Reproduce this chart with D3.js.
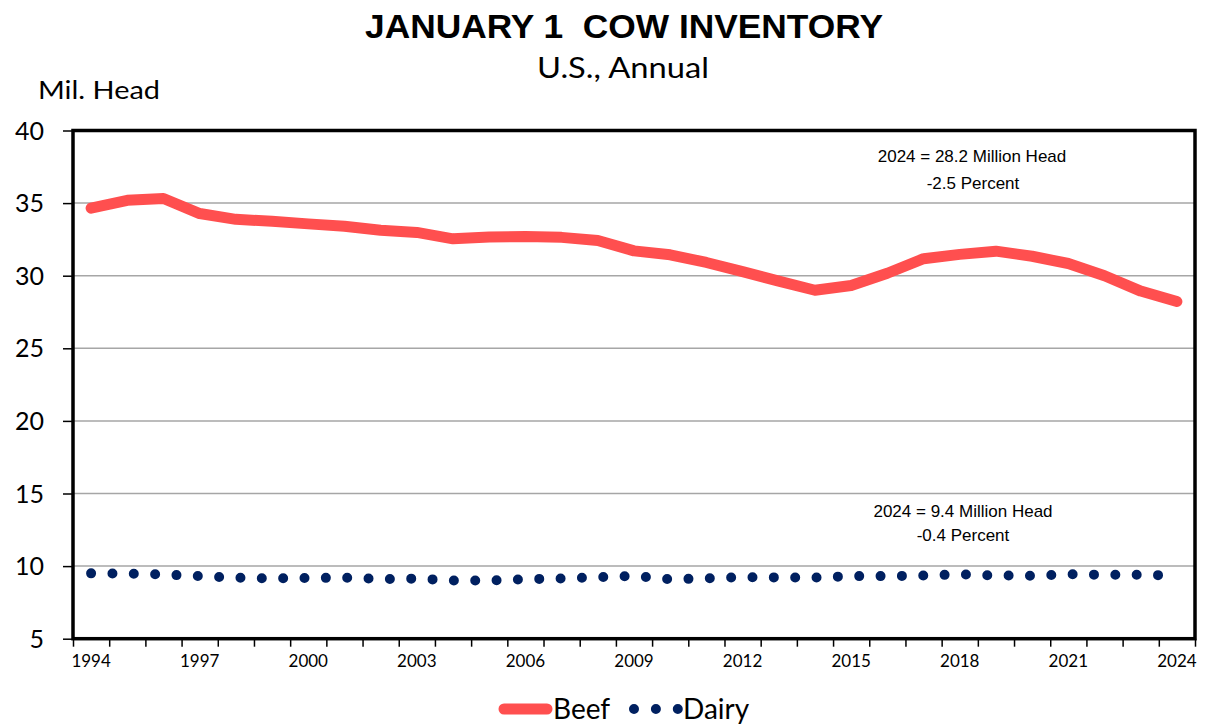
<!DOCTYPE html>
<html>
<head>
<meta charset="utf-8">
<script src="https://cdn.jsdelivr.net/npm/d3@7"></script>
<style>
  html, body { margin: 0; padding: 0; background: #fff; }
  svg { display: block; }
  text { white-space: pre; }
</style>
</head>
<body>
<svg id="chart" width="1206" height="726"></svg>
<script>
// January 1 cow inventory, U.S., million head
const years = d3.range(1994, 2025);
const beef = [34.65, 35.19, 35.32, 34.28, 33.88, 33.75, 33.57, 33.40, 33.13, 32.98,
              32.54, 32.67, 32.70, 32.64, 32.43, 31.71, 31.44, 30.91, 30.28, 29.63,
              29.00, 29.33, 30.17, 31.17, 31.47, 31.69, 31.34, 30.84, 30.00, 28.94, 28.22];
const dairy = [9.50, 9.49, 9.42, 9.31, 9.20, 9.15, 9.18, 9.20, 9.11, 9.14,
               9.01, 9.00, 9.10, 9.15, 9.23, 9.33, 9.09, 9.15, 9.24, 9.22,
               9.21, 9.31, 9.31, 9.35, 9.43, 9.35, 9.34, 9.44, 9.40, 9.40, 9.35];
const yTicks = [5, 10, 15, 20, 25, 30, 35, 40];
const xLabelYears = [1994, 1997, 2000, 2003, 2006, 2009, 2012, 2015, 2018, 2021, 2024];

const beefColor = "#FF4F4F";
const dairyColor = "#002060";
const calibri = "Lato, 'Open Sans', sans-serif";
const arial = "'Liberation Sans', Arial, sans-serif";

const svg = d3.select("#chart");
const plot = { left: 73, right: 1195, top: 130.5, bottom: 638.7 };

const x = d3.scaleBand().domain(years).range([plot.left, plot.right]).padding(0);
const xc = d => x(d) + x.bandwidth() / 2;
const xEdge = d3.scaleLinear().domain([0, years.length]).range([plot.left, plot.right]);
const y = d3.scaleLinear().domain([5, 40]).range([plot.bottom, plot.top]);

// Titles
svg.append("text").attr("x", 365).attr("y", 37.5)
  .attr("font-family", arial).attr("font-weight", "bold").attr("font-size", 32.5)
  .attr("textLength", 518).attr("lengthAdjust", "spacingAndGlyphs")
  .text("JANUARY 1  COW INVENTORY");
svg.append("text").attr("x", 537).attr("y", 78)
  .attr("font-family", calibri).attr("font-size", 29)
  .attr("textLength", 172).attr("lengthAdjust", "spacingAndGlyphs")
  .text("U.S., Annual");
svg.append("text").attr("x", 38).attr("y", 99).attr("font-family", calibri)
  .attr("font-size", 25).attr("textLength", 122).attr("lengthAdjust", "spacingAndGlyphs")
  .text("Mil. Head");

// Gridlines
svg.append("g").selectAll("line").data(yTicks.filter(t => t > 5 && t < 40)).join("line")
  .attr("x1", plot.left).attr("x2", plot.right)
  .attr("y1", d => y(d)).attr("y2", d => y(d))
  .attr("stroke", "#A6A6A6").attr("stroke-width", 1.5);

// Y axis
const yAxis = svg.append("g").attr("transform", `translate(${plot.left},0)`)
  .call(d3.axisLeft(y).tickValues(yTicks).tickSize(10).tickPadding(19).tickFormat(d3.format("d")));
yAxis.select(".domain").remove();
yAxis.selectAll(".tick line").attr("stroke", "#000").attr("stroke-width", 1.5);
yAxis.selectAll(".tick text").attr("font-family", calibri).attr("font-size", 25).attr("fill", "#000")
  .attr("dy", "0.34em");

// X axis: tick marks on category boundaries, labels on centres
const xTicks = svg.append("g").attr("transform", `translate(0,${plot.bottom})`)
  .call(d3.axisBottom(xEdge).tickValues(d3.range(0, years.length + 1)).tickSize(8).tickFormat(""));
xTicks.select(".domain").remove();
xTicks.selectAll(".tick line").attr("stroke", "#000").attr("stroke-width", 1.5);

const xLabels = svg.append("g").attr("transform", `translate(0,${plot.bottom})`)
  .call(d3.axisBottom(x).tickValues(xLabelYears).tickSize(0).tickPadding(16));
xLabels.select(".domain").remove();
xLabels.selectAll(".tick text").attr("font-family", calibri).attr("font-size", 17).attr("fill", "#000");

// Series lines
const line = d3.line().x((d, i) => xc(years[i])).y(d => y(d));

svg.append("path").datum(beef).attr("d", line)
  .attr("fill", "none").attr("stroke", beefColor).attr("stroke-width", 11)
  .attr("stroke-linejoin", "round").attr("stroke-linecap", "round");

svg.append("path").datum(dairy).attr("d", line)
  .attr("fill", "none").attr("stroke", dairyColor).attr("stroke-width", 10)
  .attr("stroke-linecap", "round").attr("stroke-dasharray", "0 21.35");

// Plot frame
svg.append("rect").attr("x", plot.left).attr("y", plot.top)
  .attr("width", plot.right - plot.left).attr("height", plot.bottom - plot.top)
  .attr("fill", "none").attr("stroke", "#000").attr("stroke-width", 3.5);

// Annotations
const notes = [
  { text: "2024 = 28.2 Million Head", x: 972, y: 162 },
  { text: "-2.5 Percent", x: 973, y: 189 },
  { text: "2024 = 9.4 Million Head", x: 963, y: 516.5 },
  { text: "-0.4 Percent", x: 963, y: 540.5 }
];
svg.append("g").selectAll("text").data(notes).join("text")
  .attr("x", d => d.x).attr("y", d => d.y).attr("text-anchor", "middle")
  .attr("font-family", arial).attr("font-size", 17).attr("fill", "#000")
  .text(d => d.text);

// Legend
const lg = svg.append("g");
lg.append("line").attr("x1", 504).attr("x2", 547).attr("y1", 709).attr("y2", 709)
  .attr("stroke", beefColor).attr("stroke-width", 11).attr("stroke-linecap", "round");
lg.append("text").attr("x", 553).attr("y", 719).attr("font-family", calibri)
  .attr("font-size", 28).text("Beef");
lg.append("line").attr("x1", 634).attr("x2", 679).attr("y1", 709).attr("y2", 709)
  .attr("stroke", dairyColor).attr("stroke-width", 10).attr("stroke-linecap", "round")
  .attr("stroke-dasharray", "0 21.9");
lg.append("text").attr("x", 683).attr("y", 719).attr("font-family", calibri)
  .attr("font-size", 28).text("Dairy");
</script>
</body>
</html>
